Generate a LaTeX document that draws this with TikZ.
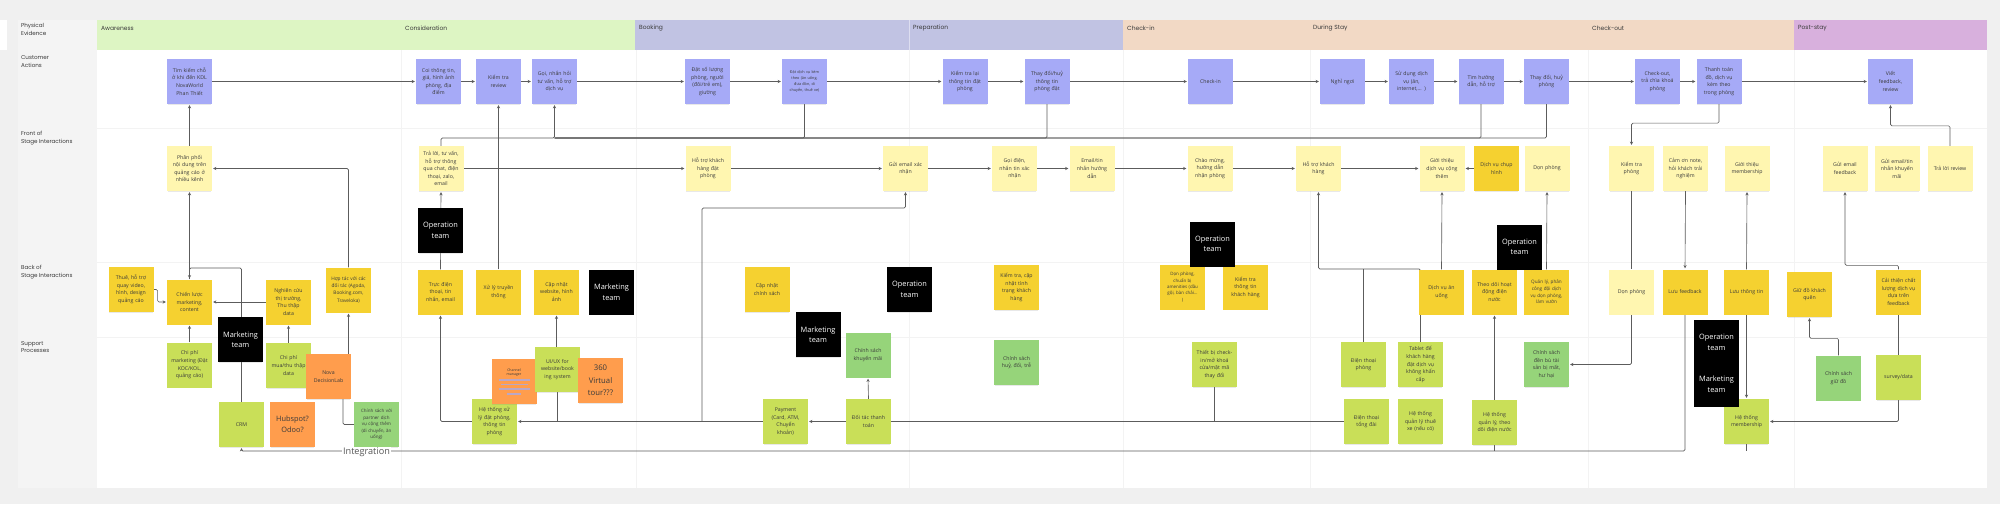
\documentclass[tikz,border=0pt]{standalone}
\usepackage{fontspec}
\setmainfont{Open Sans}
\newfontfamily\labelfont{Poppins}
\usetikzlibrary{arrows.meta,shadows}
\pgfdeclarelayer{back}
\pgfdeclarelayer{wires}
\pgfsetlayers{back,wires,main}

\definecolor{pagebg}{HTML}{F0F0F0}
\definecolor{colbg}{HTML}{F4F4F4}
\definecolor{faint}{HTML}{F3F3F3}
\definecolor{txt}{HTML}{3A3A3A}
\definecolor{wirec}{HTML}{5C5C5C}
\definecolor{cpurple}{HTML}{A6AAF7}
\definecolor{cylight}{HTML}{FFF6B0}
\definecolor{cydark}{HTML}{F5D130}
\definecolor{cgy}{HTML}{C9DF58}
\definecolor{cgreen}{HTML}{96D47A}
\definecolor{corange}{HTML}{FF9D4D}
\definecolor{strike}{HTML}{B9A7C6}
\definecolor{bandgreen}{HTML}{DDF5C3}
\definecolor{bandpurple}{HTML}{C1C3E3}
\definecolor{bandpeach}{HTML}{F2D9C5}
\definecolor{bandpink}{HTML}{D8B0DD}

\begin{document}
\begin{tikzpicture}[x=0.05cm, y=-0.05cm,
  note/.style={rectangle, minimum width=2.25cm, minimum height=2.25cm, inner sep=1pt, text width=2.15cm, align=center, text=txt, font=\fontsize{7.4}{10.8}\selectfont, drop shadow={shadow xshift=0pt, shadow yshift=-2pt, opacity=0.18, shadow scale=0.97}},
  act/.style={note, fill=cpurple},
  front/.style={note, fill=cylight},
  backd/.style={note, fill=cydark},
  supp/.style={note, fill=cgy},
  pol/.style={note, fill=cgreen},
  tool/.style={note, fill=corange},
  team/.style={note, fill=black, text=white, font=\fontsize{10.5}{15}\selectfont},
  flow/.style={draw=wirec, line width=0.9pt, rounded corners=2pt, -{Stealth[length=4.5pt,width=4.5pt]}, shorten >=1.5pt},
  link/.style={draw=wirec, line width=0.9pt, rounded corners=2pt},
  rowlbl/.style={font=\labelfont\fontsize{8}{11}\selectfont, text=txt, align=left, anchor=north west, inner sep=0pt},
  phase/.style={font=\labelfont\fontsize{8.5}{10}\selectfont, text=txt, anchor=west, inner sep=0pt}
]

% --- board, swimlanes and phase bands ---
\begin{pgfonlayer}{back}
  \fill[pagebg] (0,0) rectangle (2000,504);
  \fill[white] (0,20) rectangle (7,50);
  \fill[colbg] (18,20) rectangle (97,488);
  \fill[white] (97,20) rectangle (1987,488);
  \fill[bandgreen] (97,20) rectangle (635,50);
  \fill[bandpurple] (635,20) rectangle (1123,50);
  \fill[bandpeach] (1123,20) rectangle (1794,50);
  \fill[bandpink] (1794,20) rectangle (1987,50);
  \draw[white!45!bandpurple, line width=0.6pt] (909,20) -- (909,50);
  \draw[faint, line width=0.6pt] (97,128) -- (1987,128);
  \draw[faint, line width=0.6pt] (97,262) -- (1987,262);
  \draw[faint, line width=0.6pt] (97,337) -- (1987,337);
  \draw[faint, line width=0.6pt] (401,50) -- (401,488);
  \draw[faint, line width=0.6pt] (636,50) -- (636,488);
  \draw[faint, line width=0.6pt] (909,50) -- (909,488);
  \draw[faint, line width=0.6pt] (1123,50) -- (1123,488);
  \draw[faint, line width=0.6pt] (1310,50) -- (1310,488);
  \draw[faint, line width=0.6pt] (1588,50) -- (1588,488);
  \draw[faint, line width=0.6pt] (1794,50) -- (1794,488);
\end{pgfonlayer}

\node[phase] (ph1) at (101,28) {Awareness};
\node[phase] (ph2) at (405,28) {Consideration};
\node[phase] (ph3) at (639,28) {Booking};
\node[phase] (ph4) at (913,28) {Preparation};
\node[phase] (ph5) at (1127,28) {Check-in};
\node[phase] (ph6) at (1313,28) {During Stay};
\node[phase] (ph7) at (1592,28) {Check-out};
\node[phase] (ph8) at (1798,28) {Post-stay};

\node[rowlbl] (r1) at (21,23.5) {Physical\\Evidence};
\node[rowlbl] (r2) at (21,55.5) {Customer\\Actions};
\node[rowlbl] (r3) at (21,131) {Front of\\Stage Interactions};
\node[rowlbl] (r4) at (21,265) {Back of\\Stage Interactions};
\node[rowlbl] (r5) at (21,341) {Support\\Processes};

% --- customer actions ---
\node[act] (tim)       at (189.5,81.5) {Tìm kiếm chỗ\\ở khi đến KDL\\NovaWorld\\Phan Thiết};
\node[act] (coi)       at (438.5,81.5) {Coi thông tin,\\giá, hình ảnh\\phòng, địa\\điểm};
\node[act] (ktreview)  at (498.5,81.5) {Kiểm tra\\review};
\node[act] (goinhan)   at (554.5,81.5) {Gọi, nhắn hỏi\\tư vấn, hỗ trợ\\dịch vụ};
\node[act] (datsl)     at (707.5,81.5) {Đặt số lượng\\phòng, người\\(đôi/trẻ em),\\giường};
\node[act, font=\fontsize{5.4}{8.5}\selectfont] (datdv) at (804.5,81.5) {Đặt dịch vụ kèm\\theo (ăn uống,\\đưa đón, di\\chuyển, thuê xe)};
\node[act] (ktlai)     at (965,81.5) {Kiểm tra lại\\thông tin đặt\\phòng};
\node[act] (thaydoi)   at (1047,81.5) {Thay đổi/huỷ\\thông tin\\phòng đặt};
\node[act] (checkin)   at (1210.5,81.5) {Check-in};
\node[act] (nghingoi)  at (1342.5,81.5) {Nghỉ ngơi};
\node[act] (sudung)    at (1411.5,81.5) {Sử dụng dịch\\vụ (ăn,\\internet,... )};
\node[act] (timhd)     at (1481,81.5) {Tìm hướng\\dẫn, hỗ trợ};
\node[act] (huyphong)  at (1546.5,81.5) {Thay đổi, huỷ\\phòng};
\node[act] (checkout)  at (1657.5,81.5) {Check-out,\\trả chìa khoá\\phòng};
\node[act] (thanhtoan) at (1719,81.5) {Thanh toán\\đồ, dịch vụ\\kèm theo\\trong phòng};
\node[act] (viet)      at (1890.5,81.5) {Viết\\feedback,\\review};

% --- front of stage ---
\node[front] (phanphoi)     at (189.5,168.5) {Phân phối\\nội dung trên\\quảng cáo ở\\nhiều kênh};
\node[front] (traloi)       at (441,168.5) {Trả lời, tư vấn,\\hỗ trợ thông\\qua chat, điện\\thoại, zalo,\\email};
\node[front] (hotrodat)     at (708,168.5) {Hỗ trợ khách\\hàng đặt\\phòng};
\node[front] (guiemail)     at (905.5,168.5) {Gửi email xác\\nhận};
\node[front] (goidien)      at (1014.5,168.5) {Gọi điện,\\nhắn tin xác\\nhận};
\node[front] (emailhd)      at (1092,168.5) {Email/tin\\nhắn hướng\\dẫn};
\node[front] (chaomung)     at (1210,168.5) {Chào mừng,\\hướng dẫn\\nhận phòng};
\node[front] (hotrokh)      at (1318.5,168.5) {Hỗ trợ khách\\hàng};
\node[front] (gioithieudv)  at (1442,168.5) {Giới thiệu\\dịch vụ cộng\\thêm};
\node[backd] (chuphinh)     at (1496.5,168.5) {Dịch vụ chụp\\hình};
\node[front] (donphong)     at (1547,168.5) {Dọn phòng};
\node[front] (ktphong)      at (1631.5,168.5) {Kiểm tra\\phòng};
\node[front] (camon)        at (1685.5,168.5) {Cảm ơn note,\\hỏi khách trải\\nghiệm};
\node[front] (gtmember)     at (1747,168.5) {Giới thiệu\\membership};
\node[front] (emailfb)      at (1845,168.5) {Gửi email\\feedback};
\node[front] (emailkm)      at (1897,168.5) {Gửi email/tin\\nhắn khuyến\\mãi};
\node[front] (traloireview) at (1950,168.5) {Trả lời review};

% --- back of stage ---
\node[backd] (thue)        at (131,289.5) {Thuê, hỗ trợ\\quay video,\\hình, design\\quảng cáo};
\node[backd] (chienluoc)   at (189.5,302) {Chiến lược\\marketing,\\content};
\node[backd] (nghiencuu)   at (288.5,302) {Nghiên cứu\\thị trường,\\Thu thập\\data};
\node[backd, font=\fontsize{6.8}{10}\selectfont] (hoptac) at (348.5,290) {Hợp tác với các\\đối tác (Agoda,\\Booking.com,\\Traveloka)};
\node[backd] (truc)        at (440.5,292) {Trực điện\\thoại, tin\\nhắn, email};
\node[backd] (xuly)        at (498.5,292) {Xử lý truyền\\thông};
\node[backd] (capnhatweb)  at (556.5,292) {Cập nhật\\website, hình\\ảnh};
\node[backd] (capnhatcs)   at (767,289.5) {Cập nhật\\chính sách};
\node[backd] (kttinhtrang) at (1016.5,287.5) {Kiểm tra, cập\\nhật tình\\trạng khách\\hàng};
\node[backd, font=\fontsize{6.3}{9}\selectfont] (donamen) at (1182.5,287) {Dọn phòng,\\chuẩn bị\\amenities (dầu\\gội, bàn chải...\\)};
\node[backd] (ktttkh)      at (1245.5,287) {Kiểm tra\\thông tin\\khách hàng};
\node[backd] (anuong)      at (1441.5,292) {Dịch vụ ăn\\uống};
\node[backd] (theodoi)     at (1494.5,292) {Theo dõi hoạt\\động điện\\nước};
\node[backd, font=\fontsize{6.6}{9.5}\selectfont] (quanly) at (1546.5,292) {Quản lý, phân\\công đội dịch\\vụ dọn phòng,\\làm vườn};
\node[front] (donphongb)   at (1631.5,292) {Dọn phòng};
\node[backd] (luufb)       at (1685,292) {Lưu feedback};
\node[backd] (luutt)       at (1746.5,292) {Lưu thông tin};
\node[backd] (giudo)       at (1809.5,294.5) {Giữ đồ khách\\quên};
\node[backd] (caithien)    at (1898.5,292) {Cải thiện chất\\lượng dịch vụ\\dựa trên\\feedback};

% --- support processes ---
\node[supp] (cpmkt)     at (189.5,365) {Chi phí\\marketing (Đặt\\KOC/KOL,\\quảng cáo)};
\node[supp] (cpdata)    at (288.5,365.5) {Chi phí\\mua/thu thập\\data};
\node[tool] (nova)      at (328.5,376.5) {Nova\\DecisionLab};
\node[supp] (crm)       at (241.5,424.5) {CRM};
\node[tool, font=\fontsize{10.5}{15}\selectfont] (hubspot) at (292.5,424.5) {Hubspot?\\Odoo?};
\node[pol, font=\fontsize{6.4}{9.2}\selectfont] (partner) at (376.5,424.5) {Chính sách với\\partner dịch\\vụ cộng thêm\\(di chuyển, ăn\\uống)};
\node[supp] (hethongxl) at (494.5,421.5) {Hệ thống xử\\lý đặt phòng,\\thông tin\\phòng};
\node[tool, font=\fontsize{5}{6.5}\selectfont] (channel) at (514,381.5) {Channel\\manager\\[1pt]\textcolor{strike}{\rule{1.55cm}{2.2pt}}\\\textcolor{strike}{\rule{1.35cm}{2.2pt}}\\\textcolor{strike}{\rule{1.55cm}{2.2pt}}\\\textcolor{strike}{\rule{0.7cm}{2.2pt}}};
\node[supp] (uiux)      at (557.5,369.5) {UI/UX for\\website/book\\ing system};
\node[tool, font=\fontsize{11}{17.5}\selectfont] (tour) at (600.5,380.5) {360\\Virtual\\tour???};
\node[supp] (payment)   at (785.5,421.5) {Payment\\(Card, ATM,\\Chuyển\\khoản)};
\node[pol] (cskm)       at (868,355) {Chính sách\\khuyến mãi};
\node[supp] (doitac)    at (868.5,421.5) {Đối tác thanh\\toán};
\node[pol] (cshuy)      at (1016.5,362.5) {Chính sách\\huỷ, đổi, trễ};
\node[supp] (thietbi)   at (1214.5,364.5) {Thiết bị check-\\in/mở khoá\\cửa/mật mã\\thay đổi};
\node[supp] (dtphong)   at (1363.5,364.5) {Điện thoại\\phòng};
\node[supp] (tablet)    at (1420.5,364.5) {Tablet để\\khách hàng\\đặt dịch vụ\\không khẩn\\cấp};
\node[supp] (dttongdai) at (1366.5,421.5) {Điện thoại\\tổng đài};
\node[supp] (thuexe)    at (1420.5,421.5) {Hệ thống\\quản lý thuê\\xe (nếu có)};
\node[supp] (htdiennuoc) at (1494.5,422.5) {Hệ thống\\quản lý, theo\\dõi điện nước};
\node[pol] (denbu)      at (1546.5,364.5) {Chính sách\\đền bù tài\\sản bị mất,\\hư hại};
\node[supp] (htmember)  at (1746.5,421.5) {Hệ thống\\membership};
\node[pol] (csgiudo)    at (1838.5,378) {Chính sách\\giữ đồ};
\node[supp] (survey)    at (1898.5,377.5) {survey/data};

% --- teams ---
\node[team] (opt1) at (440.5,230.5) {Operation\\team};
\node[team] (mkt1) at (240.5,339.5) {Marketing\\team};
\node[team] (mkt2) at (611.5,292) {Marketing\\team};
\node[team] (mkt3) at (818,334.5) {Marketing\\team};
\node[team] (opt2) at (909.5,289.5) {Operation\\team};
\node[team] (opt3) at (1212.5,244) {Operation\\team};
\node[team] (opt4) at (1519.5,247) {Operation\\team};
\node[team, minimum height=4.35cm] (optmkt) at (1716.5,363.5) {Operation\\team\\[30pt]Marketing\\team};

\node[fill=white, inner sep=1pt, text=txt!85, font=\fontsize{13}{15}\selectfont] (integ) at (366.5,452) {Integration};

% --- bend points ---
\coordinate (askbus) at (554.5,138);
\coordinate (crmbend) at (189.5,268);
\coordinate (novain) at (343,399);
\coordinate (paysplit) at (702,421.5);
\coordinate (paytop) at (702,208);
\coordinate (staybend) at (1420.5,269);
\coordinate (intend) at (241.5,451);

\begin{pgfonlayer}{wires}
% customer journey
\draw[flow] (tim.east) -- (coi.west);
\draw[flow] (coi.east) -- (ktreview.west);
\draw[flow] (ktreview.east) -- (goinhan.west);
\draw[flow] (goinhan.east) -- (datsl.west);
\draw[flow] (datsl.east) -- (datdv.west);
\draw[flow] (datdv.east) -- (ktlai.west);
\draw[flow] (ktlai.east) -- (thaydoi.west);
\draw[flow] (thaydoi.east) -- (checkin.west);
\draw[flow] (checkin.east) -- (nghingoi.west);
\draw[flow] (nghingoi.east) -- (sudung.west);
\draw[flow] (sudung.east) -- (timhd.west);
\draw[flow] (timhd.east) -- (huyphong.west);
\draw[flow] (huyphong.east) -- (checkout.west);
\draw[flow] (checkout.east) -- (thanhtoan.west);
\draw[flow] (thanhtoan.east) -- (viet.west);

% front stage
\draw[flow] (traloi.east) -- (hotrodat.west);
\draw[flow] (hotrodat.east) -- (guiemail.west);
\draw[flow] (guiemail.east) -- (goidien.west);
\draw[flow] (goidien.east) -- (emailhd.west);
\draw[flow] (emailhd.east) -- (chaomung.west);
\draw[flow] (chaomung.east) -- (hotrokh.west);
\draw[flow] (hotrokh.east) -- (gioithieudv.west);
\draw[flow] (chuphinh.west) -- (gioithieudv.east);

% awareness / consideration
\draw[flow] (phanphoi.north) -- (tim.south);
\draw[flow] (chienluoc.north) -- (phanphoi.south);
\draw[flow] (crm.north) |- (crmbend) -- (chienluoc.north);
\draw[flow] (thue.east) -- ++(4,0) |- (chienluoc.west);
\draw[flow] (nghiencuu.west) -- (chienluoc.east);
\draw[flow] (cpmkt.north) -- (chienluoc.south);
\draw[flow] (cpdata.north) -- (nghiencuu.south);
\draw[flow] (hoptac.south |- nova.north) -- (hoptac.south);
\draw[link] (partner.west) -| (novain);
\draw[flow] (hoptac.north) |- (phanphoi.east);
\draw[flow] (truc.north) -- (traloi.south);
\draw[flow] (xuly.north) -- (ktreview.south);
\draw[flow] (capnhatweb.south |- uiux.north) -- (capnhatweb.south);
\draw[flow] (traloi.north) |- (askbus) -- (goinhan.south);
\draw[link] (datdv.south) |- (askbus);
\draw[link] (thaydoi.south) |- (askbus);
\draw[link] (timhd.south) |- (askbus);
\draw[link] (huyphong.south) |- (askbus);

% booking / payment
\draw[flow] (payment.west) -- (hethongxl.east);
\draw[flow] (hethongxl.west) -| (truc.south);
\draw[flow] (paysplit) -- (paytop) -| (guiemail.south);
\draw[link] (uiux.south) -- (uiux.south |- paysplit);
\draw[flow] (doitac.west) -- (payment.east);
\draw[flow] (doitac.north) -- (cskm.south);
\draw[link] (dttongdai.west) -- (doitac.east);
\draw[link] (thietbi.south) -- (thietbi.south |- doitac.east);

% during stay
\draw[flow] (tablet.north) -- (staybend) -| (hotrokh.south);
\draw[link] (dtphong.north) -- (dtphong.north |- staybend);
\draw[flow] (anuong.north) -- (gioithieudv.south);
\draw[flow] (quanly.north) -- (donphong.south);
\draw[flow] (htdiennuoc.north) -- (theodoi.south);

% check-out / post-stay
\draw[flow] (donphongb.south) |- (denbu.east);
\draw[link] (ktphong.south) -- (donphongb.north);
\draw[flow] (thanhtoan.south) -- ++(0,19) -| (ktphong.north);
\draw[flow] (camon.south) -- (luufb.north);
\draw[flow] (luutt.north) -- (gtmember.south);
\draw[flow] (luutt.south) -- (htmember.north);
\draw[flow] (survey.south) |- (htmember.east);
\draw[link] (survey.north) -- (caithien.south);
\draw[flow] (caithien.north) -- ++(0,-4) -| (emailfb.south);
\draw[flow] (csgiudo.north) -- ++(0,-17) -| (giudo.south);
\draw[flow] (traloireview.north) -- ++(0,-20) -| (viet.south);

% integration line
\draw[flow] (luufb.south) |- (intend) -- (crm.south);
\draw[link] (htmember.south) -- (htmember.south |- intend);
\draw[link] (htdiennuoc.south) -- (htdiennuoc.south |- intend);
\end{pgfonlayer}

\useasboundingbox (0,0) rectangle (2000,504);
\end{tikzpicture}
\end{document}
